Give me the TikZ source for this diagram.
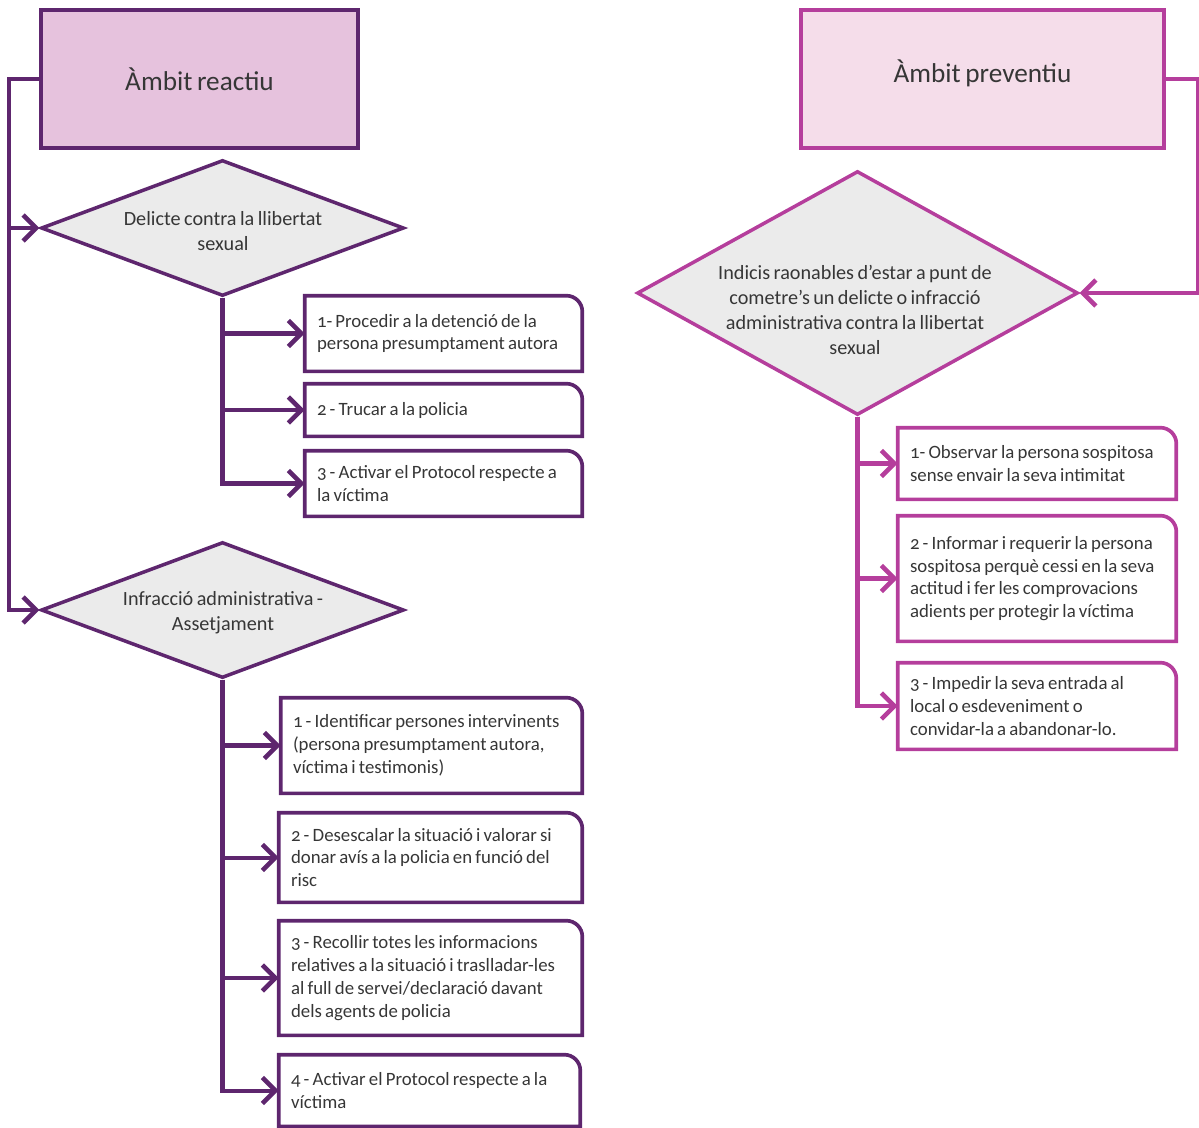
\documentclass[tikz,border=0pt]{standalone}
\usepackage{fontspec}
\setmainfont{Carlito}[Numbers=OldStyle,WordSpace=0.75]
\usetikzlibrary{arrows.meta,shapes.geometric}
\definecolor{dpurp}{HTML}{5E266E}
\definecolor{magen}{HTML}{B53E9C}
\definecolor{fillA}{HTML}{E6C2DD}
\definecolor{fillB}{HTML}{F5DDEA}
\definecolor{dgray}{HTML}{EBEBEB}
\definecolor{txt}{HTML}{363636}
\tikzset{
  arr/.style={line width=2.3pt,-{Straight Barb[length=2.6mm,width=5.2mm,line width=2.6pt]}},
  titlebox/.style={rectangle,draw,line width=2.3pt,inner sep=0pt,font=\fontsize{15.5}{18}\selectfont,text=txt},
  dia/.style={diamond,draw,line width=2pt,fill=dgray,inner sep=0pt},
  diatext/.style={align=center,font=\fontsize{11.5}{14.2}\selectfont,text=txt,inner sep=0pt},
  stepbox/.style={rectangle,inner sep=0pt,text width=#1,align=flush left,font=\fontsize{10.7}{13}\selectfont,text=txt},
  boxline/.style={line width=2.1pt},
}
\newcommand{\rbox}[2]{\draw[boxline,#2] (#1.south west) -- (#1.north west) -- ([xshift=-0.32cm]#1.north east) arc[start angle=90,end angle=0,radius=0.32cm] -- (#1.south east) -- cycle;}
\begin{document}
\begin{tikzpicture}[x=0.02cm,y=-0.02cm]
\useasboundingbox (0,0) rectangle (1199,1127);
% ---------- left: reactiu ----------
\node[titlebox,draw=dpurp,fill=fillA,minimum width=6.34cm,minimum height=2.76cm] (reac) at (199.5,79) {Àmbit reactiu};
\node[dia,draw=dpurp,minimum width=7.26cm,minimum height=2.72cm] (d1) at (222.5,228) {};
\node[diatext] (t1) at (223,231) {Delicte contra la llibertat\\sexual};
\node[dia,draw=dpurp,minimum width=7.26cm,minimum height=2.72cm] (d2) at (222.5,610) {};
\node[diatext] (t2) at (223,613) {Infracció administrativa -\\Assetjament};

\node[stepbox=5.06cm,minimum width=5.54cm,minimum height=1.5cm] (s1) at (443.5,333.5) {1- Procedir a la detenció de la\\persona presumptament autora};
\node[stepbox=5.06cm,minimum width=5.54cm,minimum height=1.04cm] (s2) at (443.5,410) {2 - Trucar a la policia};
\node[stepbox=5.06cm,minimum width=5.54cm,minimum height=1.3cm] (s3) at (443.5,483.5) {3 - Activar el Protocol respecte a\\la víctima};

\node[stepbox=5.54cm,minimum width=6.02cm,minimum height=1.9cm] (b1) at (431.5,745.5) {1 - Identificar persones intervinents\\(persona presumptament autora,\\víctima i testimonis)};
\node[stepbox=5.58cm,minimum width=6.06cm,minimum height=1.78cm] (b2) at (430.5,857.5) {2 - Desescalar la situació i valorar si\\donar avís a la policia en funció del\\risc};
\node[stepbox=5.58cm,minimum width=6.06cm,minimum height=2.28cm] (b3) at (430.5,978) {3 - Recollir totes les informacions\\relatives a la situació i traslladar-les\\al full de servei/declaració davant\\dels agents de policia};
\node[stepbox=5.54cm,minimum width=6.02cm,minimum height=1.42cm] (b4) at (429.5,1090.5) {4 - Activar el Protocol respecte a la\\víctima};

\foreach \n in {s1,s2,s3,b1,b2,b3,b4} {\rbox{\n}{draw=dpurp}}

\draw[arr,draw=dpurp] (reac.west) -- ++(-30,0) |- (d1.west);
\draw[arr,draw=dpurp] (reac.west) -- ++(-30,0) |- (d2.west);
\foreach \n in {s1,s2,s3} {\draw[arr,draw=dpurp] (d1.south) |- (\n.west);}
\foreach \n in {b1,b2,b3,b4} {\draw[arr,draw=dpurp] (d2.south) |- (\n.west);}

% ---------- right: preventiu ----------
\node[titlebox,draw=magen,fill=fillB,minimum width=7.26cm,minimum height=2.76cm] (prev) at (982.5,79) {\raisebox{0.3cm}{Àmbit preventiu}};
\node[dia,draw=magen,minimum width=8.82cm,minimum height=4.88cm] (d3) at (857.5,293) {};
\node[diatext] (t3) at (855,310) {Indicis raonables d’estar a punt de\\cometre’s un delicte o infracció\\administrativa contra la llibertat\\sexual};

\node[stepbox=5.08cm,minimum width=5.56cm,minimum height=1.42cm] (r1) at (1037,463.5) {1- Observar la persona sospitosa\\sense envair la seva intimitat};
\node[stepbox=5.08cm,minimum width=5.56cm,minimum height=2.5cm] (r2) at (1037,578.5) {2 - Informar i requerir la persona\\sospitosa perquè cessi en la seva\\actitud i fer les comprovacions\\adients per protegir la víctima};
\node[stepbox=5.08cm,minimum width=5.56cm,minimum height=1.72cm] (r3) at (1037,706) {3 - Impedir la seva entrada al\\local o esdeveniment o\\convidar-la a abandonar-lo.};

\foreach \n in {r1,r2,r3} {\rbox{\n}{draw=magen}}

\draw[arr,draw=magen] (prev.east) -- ++(32,0) |- (d3.east);
\foreach \n in {r1,r2,r3} {\draw[arr,draw=magen] (d3.south) |- (\n.west);}
\end{tikzpicture}
\end{document}
